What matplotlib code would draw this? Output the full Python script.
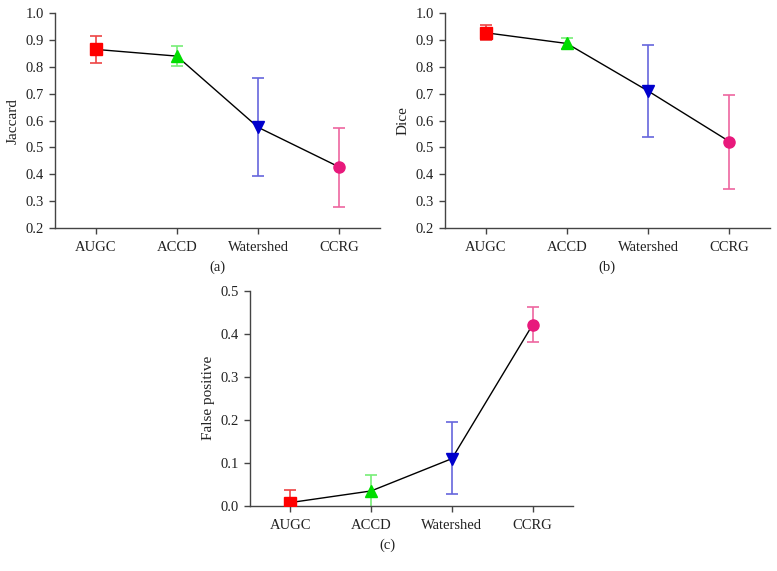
import matplotlib
matplotlib.use("Agg")
import matplotlib.pyplot as plt
import numpy as np

plt.rcParams['font.family'] = ['Liberation Serif', 'DejaVu Serif']

methods = ["AUGC", "ACCD", "Watershed", "CCRG"]

jaccard_mean = [0.865, 0.840, 0.575, 0.427]
jaccard_low = [0.815, 0.805, 0.393, 0.280]
jaccard_high = [0.915, 0.878, 0.757, 0.573]

dice_mean = [0.927, 0.887, 0.710, 0.522]
dice_low = [0.899, 0.865, 0.537, 0.347]
dice_high = [0.955, 0.908, 0.880, 0.697]

fp_mean = [0.008, 0.035, 0.110, 0.421]
fp_low = [-0.021, -0.003, 0.028, 0.380]
fp_high = [0.037, 0.073, 0.194, 0.463]

marker_styles = ["s", "^", "v", "o"]
marker_colors = ["#ff0000", "#00dd00", "#0000cc", "#e8197c"]
err_colors = ["#ee4444", "#77ee77", "#6666dd", "#ee66a0"]

fig = plt.figure(figsize=(7.77, 5.71), dpi=100)

axcol = "#444444"

def panel(rect, mean, low, high, ylabel, ylim, yticks, tag, tagx, tagy):
    ax = fig.add_axes(rect)
    x = np.arange(len(methods))
    ax.plot(x, mean, color="black", lw=1.0, zorder=2)
    for i in range(len(methods)):
        ax.errorbar(x[i], mean[i], yerr=[[mean[i] - low[i]], [high[i] - mean[i]]],
                    fmt="none", ecolor=err_colors[i], elinewidth=1.2, capsize=4,
                    capthick=1.2, zorder=1, clip_on=True)
        ax.plot(x[i], mean[i], marker=marker_styles[i], color=marker_colors[i],
                markersize=8, linestyle="none", zorder=3)
    ax.set_xlim(-0.5, 3.5)
    ax.set_ylim(*ylim)
    ax.set_yticks(yticks)
    ax.set_yticklabels([f"{t:.1f}" for t in yticks])
    ax.set_xticks(x)
    ax.set_xticklabels(methods)
    for s in ["top", "right"]:
        ax.spines[s].set_visible(False)
    for s in ["left", "bottom"]:
        ax.spines[s].set_color(axcol)
        ax.spines[s].set_linewidth(1.0)
    ax.tick_params(axis="both", colors=axcol, labelcolor="#222222", labelsize=10.5,
                   length=4, width=1.0, direction="out", pad=4)
    ax.tick_params(axis="x", pad=5)
    ax.set_ylabel(ylabel, fontsize=11, color="#222222", labelpad=4)
    fig.text(tagx, tagy, tag, ha="center", va="center",
             fontsize=10.5, color="#222222")
    return ax

panel([0.0708, 0.6007, 0.418, 0.3763], jaccard_mean, jaccard_low, jaccard_high,
      "Jaccard", (0.2, 1.0), np.arange(0.2, 1.01, 0.1), "(a)", 217 / 777, 1 - 267 / 571)
panel([0.5727, 0.6007, 0.4183, 0.3763], dice_mean, dice_low, dice_high,
      "Dice", (0.2, 1.0), np.arange(0.2, 1.01, 0.1), "(b)", 607 / 777, 1 - 267 / 571)
panel([0.3218, 0.1138, 0.4157, 0.3772], fp_mean, fp_low, fp_high,
      "False positive", (0.0, 0.5), np.arange(0.0, 0.51, 0.1), "(c)", 387 / 777, 1 - 545 / 571)

fig.savefig("out.png", dpi=100)
